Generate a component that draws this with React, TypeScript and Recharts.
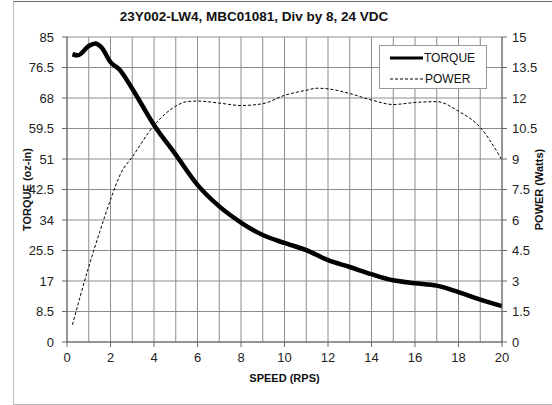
import { LineChart, Line, XAxis, YAxis, CartesianGrid } from "recharts";

const TITLE = "23Y002-LW4, MBC01081, Div by 8, 24 VDC";

// torque curve (oz-in) vs speed (rps)
const torqueSpeed = [0.25, 0.5, 1, 1.3, 1.6, 2, 2.4, 3, 4, 5, 6, 7, 8, 9, 10, 11, 12, 13, 14, 15, 16, 17, 18, 19, 20];
const torqueValues = [80.2, 79.9, 82.5, 83.2, 82, 78, 76, 70.6, 60.5, 52.2, 43.8, 37.8, 33.3, 29.8, 27.6, 25.6, 22.8, 20.9, 18.9, 17.2, 16.4, 15.7, 13.9, 11.8, 10];

// power curve (watts) vs speed (rps)
const powerSpeed = [0.25, 1, 1.5, 2, 2.5, 3, 4, 5, 5.5, 6, 7, 8, 9, 10, 11, 11.5, 12, 13, 14, 15, 16, 17, 18, 19, 20];
const powerValues = [0.85, 3.7, 5.4, 7.0, 8.35, 9.1, 10.65, 11.6, 11.82, 11.85, 11.75, 11.63, 11.72, 12.13, 12.38, 12.48, 12.45, 12.22, 11.9, 11.68, 11.78, 11.82, 11.35, 10.55, 8.95];

const speedTicks = [0, 2, 4, 6, 8, 10, 12, 14, 16, 18, 20];
const torqueTicks = [0, 8.5, 17, 25.5, 34, 42.5, 51, 59.5, 68, 76.5, 85];
const powerTicks = [0, 1.5, 3, 4.5, 6, 7.5, 9, 10.5, 12, 13.5, 15];
const gridSpeed = [0, 1, 2, 3, 4, 5, 6, 7, 8, 9, 10, 11, 12, 13, 14, 15, 16, 17, 18, 19, 20];
const gridTorque = [0, 4.25, 8.5, 12.75, 17, 21.25, 25.5, 29.75, 34, 38.25, 42.5, 46.75, 51, 55.25, 59.5, 63.75, 68, 72.25, 76.5, 80.75, 85];

const torqueData = torqueSpeed.map((s, i) => ({ speed: s, torque: torqueValues[i] }));
const powerData = powerSpeed.map((s, i) => ({ speed: s, power: powerValues[i] }));

const FONT = "'Liberation Sans', Arial, sans-serif";
const tickStyle = { fontSize: 13, fill: "#222", fontFamily: FONT };
const axisTitleStyle = { fontSize: 11, fontWeight: "bold", fill: "#111", fontFamily: FONT };

function ChartLegend() {
  return (
    <div
      style={{
        position: "absolute",
        left: 379,
        top: 45,
        width: 108,
        height: 44,
        border: "1px solid #999",
        background: "#fff",
        fontFamily: FONT,
        fontSize: 12,
        color: "#111",
        boxSizing: "border-box",
        paddingTop: 2,
      }}
    >
      <div style={{ display: "flex", alignItems: "center", height: 19, paddingLeft: 10 }}>
        <svg width={33} height={6}>
          <line x1={0} y1={3} x2={33} y2={3} stroke="#000" strokeWidth={3} />
        </svg>
        <span style={{ marginLeft: 1 }}>TORQUE</span>
      </div>
      <div style={{ display: "flex", alignItems: "center", height: 23, paddingLeft: 10 }}>
        <svg width={33} height={6}>
          <line x1={0} y1={3} x2={33} y2={3} stroke="#000" strokeWidth={1} strokeDasharray="3 2" />
        </svg>
        <span style={{ marginLeft: 2 }}>POWER</span>
      </div>
    </div>
  );
}

export default function App() {
  return (
    <div style={{ position: "absolute", left: 0, top: 0, width: 552, height: 405, background: "#fff" }}>
      <div
        style={{
          position: "absolute",
          left: 13,
          top: 1,
          width: 545,
          height: 402,
          borderTop: "1px solid #666",
          borderLeft: "1px solid #bbb",
          borderBottom: "1px solid #bbb",
        }}
      />
      <div
        style={{
          position: "absolute",
          left: 0,
          top: 9,
          width: 508,
          textAlign: "center",
          fontFamily: FONT,
          fontWeight: "bold",
          fontSize: 13.5,
          color: "#111",
        }}
      >
        {TITLE}
      </div>
      <div style={{ position: "absolute", left: 0, top: 0 }}>
        <LineChart width={552} height={405} margin={{ top: 37, right: 0, bottom: 33, left: 0 }}>
          <CartesianGrid
            yAxisId="torque"
            stroke="#8c8c8c"
            verticalValues={gridSpeed}
            horizontalValues={gridTorque}
          />
          <XAxis
            dataKey="speed"
            type="number"
            domain={[0, 20]}
            ticks={speedTicks}
            allowDuplicatedCategory={false}
            tick={tickStyle}
            tickSize={5}
            tickMargin={6}
            stroke="#666"
            label={{ value: "SPEED (RPS)", position: "center", dy: 21, style: axisTitleStyle }}
          />
          <YAxis
            yAxisId="torque"
            orientation="left"
            width={67}
            domain={[0, 85]}
            ticks={torqueTicks}
            tick={tickStyle}
            tickSize={5}
            tickMargin={8}
            stroke="#666"
            label={{ value: "TORQUE (oz-in)", angle: -90, position: "center", dx: -6, style: axisTitleStyle }}
          />
          <YAxis
            yAxisId="power"
            orientation="right"
            width={50}
            domain={[0, 15]}
            ticks={powerTicks}
            tick={tickStyle}
            tickSize={5}
            tickMargin={5}
            stroke="#666"
            label={{ value: "POWER (Watts)", angle: -90, position: "center", dx: 12, style: axisTitleStyle }}
          />
          <Line
            yAxisId="torque"
            data={torqueData}
            dataKey="torque"
            type="monotone"
            stroke="#000"
            strokeWidth={4.5}
            dot={false}
            isAnimationActive={false}
          />
          <Line
            yAxisId="power"
            data={powerData}
            dataKey="power"
            type="monotone"
            stroke="#000"
            strokeWidth={1}
            strokeDasharray="3 2"
            dot={false}
            isAnimationActive={false}
          />
        </LineChart>
      </div>
      <ChartLegend />
    </div>
  );
}
